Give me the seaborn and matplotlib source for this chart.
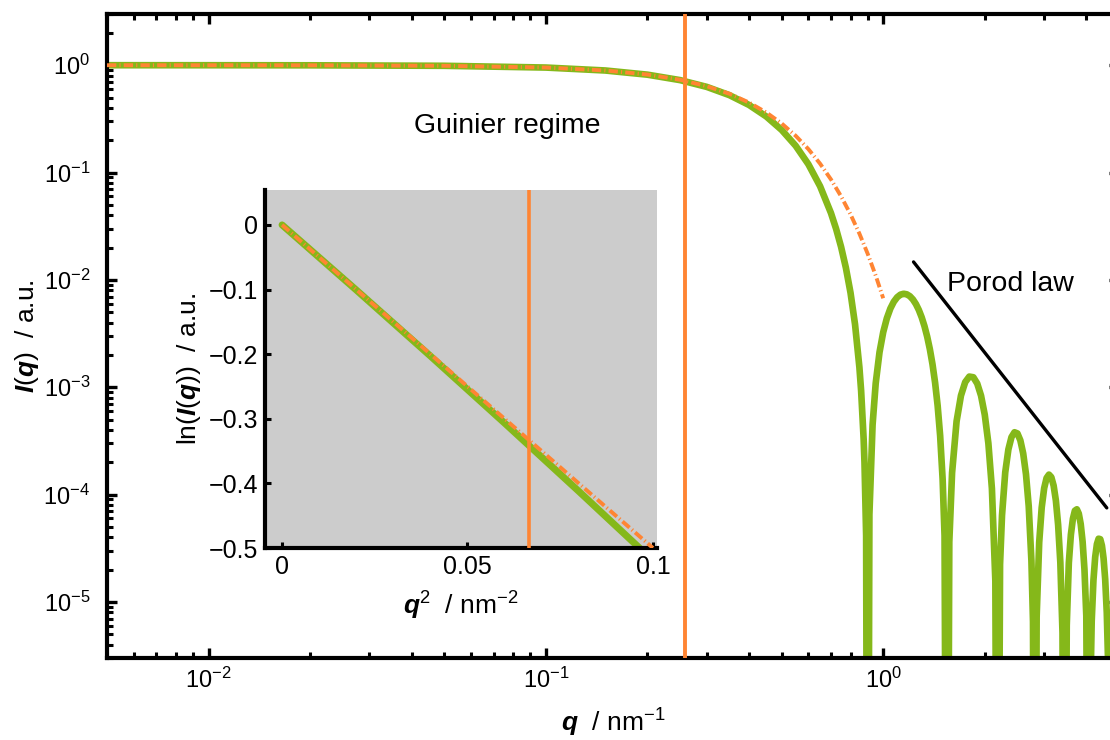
import numpy as np
import pandas as pd
import matplotlib
matplotlib.use("Agg")
import matplotlib.pyplot as plt
import matplotlib.ticker as mticker
import seaborn as sns

# ---------------- data ----------------
# sphere form factor, main panel
q_sphere = [0.005, 0.01, 0.02, 0.05, 0.1, 0.15, 0.2, 0.25, 0.3, 0.35, 0.4, 0.45, 0.5,
            0.55, 0.6, 0.65, 0.7, 0.725, 0.75, 0.775, 0.8, 0.825, 0.85, 0.86, 0.875, 0.88,
            0.89, 0.8987,
            0.91, 0.93, 0.95, 0.975, 1.0, 1.025, 1.05, 1.075, 1.1, 1.125, 1.15, 1.175, 1.2,
            1.225, 1.25, 1.275, 1.3, 1.325, 1.35, 1.375, 1.4, 1.425, 1.45, 1.475, 1.5, 1.52,
            1.5451,
            1.57, 1.6, 1.65, 1.7, 1.75, 1.8, 1.85, 1.9, 1.95, 2.0, 2.05, 2.1, 2.15, 2.1808,
            2.22, 2.25, 2.3, 2.35, 2.4, 2.45, 2.5, 2.55, 2.6, 2.65, 2.7, 2.75, 2.78, 2.8132,
            2.85, 2.9, 2.95, 3.0, 3.05, 3.1, 3.15, 3.2, 3.25, 3.3, 3.35, 3.4, 3.4442,
            3.5, 3.55, 3.6, 3.65, 3.7, 3.75, 3.8, 3.85, 3.9, 3.95, 4.0, 4.0743,
            4.1, 4.15, 4.2, 4.25, 4.3, 4.35, 4.4, 4.45, 4.5, 4.55, 4.6, 4.65, 4.7039,
            4.75, 4.8, 4.85, 4.9, 4.95, 5.0]
I_sphere = [0.99988, 0.9995, 0.998, 0.98756, 0.95106, 0.89278, 0.81632, 0.72628, 0.62781,
            0.52622, 0.42653, 0.33313, 0.24946, 0.17784, 0.11949, 0.074476, 0.041939,
            0.029886, 0.020317, 0.012974, 0.0075834, 0.0038554, 0.0015299, 9.278e-4,
            3.279e-4, 1.991e-4, 4.14e-5, 1e-10,
            6.52e-5, 4.463e-4, 1.0871e-3, 2.115e-3, 3.2551e-3, 4.3847e-3, 5.4091e-3,
            6.2587e-3, 6.8895e-3, 7.286e-3, 7.4239e-3, 7.3334e-3, 7.0384e-3, 6.5653e-3,
            5.9544e-3, 5.2483e-3, 4.4882e-3, 3.7136e-3, 2.9603e-3, 2.2589e-3, 1.633e-3,
            1.1e-3, 6.719e-4, 3.5232e-4, 1.396e-4, 4.14e-5, 1e-10,
            3.61e-5, 1.592e-4, 4.81e-4, 8.351e-4, 1.1154e-3, 1.2561e-3, 1.2381e-3,
            1.0813e-3, 8.335e-4, 5.541e-4, 3.001e-4, 1.136e-4, 1.561e-5, 1e-10,
            2.234e-5, 6.408e-5, 1.61e-4, 2.634e-4, 3.427e-4, 3.805e-4, 3.709e-4,
            3.197e-4, 2.413e-4, 1.5453e-4, 7.767e-5, 2.416e-5, 6.52e-6, 1e-10,
            7.27e-6, 3.581e-5, 7.568e-5, 1.1465e-4, 1.4268e-4, 1.5337e-4, 1.4523e-4,
            1.2126e-4, 8.783e-5, 5.224e-5, 2.337e-5, 5.15e-6, 1e-10,
            6.02e-6, 2.305e-5, 4.225e-5, 5.952e-5, 7.073e-5, 7.287e-5, 6.644e-5,
            5.316e-5, 3.641e-5, 2.0e-5, 7.39e-6, 1e-10,
            8.4e-7, 6.62e-6, 1.598e-5, 2.614e-5, 3.454e-5, 3.879e-5, 3.839e-5, 3.35e-5,
            2.547e-5, 1.625e-5, 7.91e-6, 2.18e-6, 1e-10,
            1.47e-6, 5.79e-6, 1.157e-5, 1.723e-5, 2.132e-5, 2.288e-5]

# Guinier approximation, main panel
q_guinier = [0.005, 0.01, 0.02, 0.05, 0.1, 0.15, 0.2, 0.25, 0.3, 0.35, 0.4, 0.45, 0.5,
             0.55, 0.6, 0.65, 0.7, 0.75, 0.8, 0.85, 0.9, 0.95, 1.0]
I_guinier = [0.99988, 0.9995, 0.998, 0.98758, 0.95123, 0.8936, 0.81873, 0.73161, 0.63763,
             0.54199, 0.44933, 0.36331, 0.2865, 0.22035, 0.1653, 0.12093, 0.08629, 0.060054,
             0.04076, 0.026978, 0.01742, 0.01097, 0.006738]

# Porod law guide line
q_porod = [1.23, 4.6]
I_porod = [0.0147, 7.51e-5]

# Guinier limit marker
q_limit = 0.258
q2_limit = 0.0667

# inset: ln I vs q^2
q2_inset = [0.0, 0.02, 0.04, 0.06, 0.08, 0.1]
lnI_inset = [0.0, -0.1007, -0.2029, -0.3067, -0.4122, -0.5194]
q2_guinier = [0.0, 0.1]
lnI_guinier = [0.0, -0.5]

# tick positions
x_major = [1e-2, 1e-1, 1e0]
y_major = [1e-5, 1e-4, 1e-3, 1e-2, 1e-1, 1e0]
inset_xticks = [0, 0.05, 0.1]
inset_xlabels = ["0", "0.05", "0.1"]
inset_yticks = [0, -0.1, -0.2, -0.3, -0.4, -0.5]
inset_ylabels = ["0", "\u22120.1", "\u22120.2", "\u22120.3", "\u22120.4", "\u22120.5"]

labels_text = ["Guinier regime", "Porod law"]

# ---------------- style ----------------
sns.set_style("ticks")
plt.rcParams["font.family"] = ["Liberation Sans", "DejaVu Sans"]
plt.rcParams["mathtext.fontset"] = "custom"
plt.rcParams["mathtext.rm"] = "Liberation Sans"
plt.rcParams["mathtext.it"] = "Liberation Sans:italic"
plt.rcParams["mathtext.bf"] = "Liberation Sans:bold:italic"
plt.rcParams["axes.edgecolor"] = "black"
plt.rcParams["xtick.color"] = "black"
plt.rcParams["ytick.color"] = "black"
plt.rcParams["text.color"] = "black"
plt.rcParams["axes.labelcolor"] = "black"

GREEN = "#85b81a"
ORANGE = "#ff8533"
DASH = (0, (2.4, 0.8, 0.3, 0.8))

fig = plt.figure(figsize=(11.1, 7.4), dpi=100)
ax = fig.add_axes([107/1110, 1-658/740, (1119-107)/1110, (658-14)/740])
ax.set_xscale("log")
ax.set_yscale("log")

df_s = pd.DataFrame({"q": q_sphere, "I": I_sphere})
df_g = pd.DataFrame({"q": q_guinier, "I": I_guinier})
df_p = pd.DataFrame({"q": q_porod, "I": I_porod})

sns.lineplot(data=df_s, x="q", y="I", ax=ax, color=GREEN, lw=4.8, sort=False,
             estimator=None, zorder=2)
sns.lineplot(data=df_g, x="q", y="I", ax=ax, color=ORANGE, lw=2.8, sort=False,
             estimator=None, zorder=3, linestyle=DASH)
sns.lineplot(data=df_p, x="q", y="I", ax=ax, color="black", lw=2.4, sort=False,
             estimator=None, zorder=3)
ax.axvline(q_limit, color=ORANGE, lw=2.8, zorder=4)

ax.set_xlim(0.005, 5.0)
ax.set_ylim(3e-6, 3.0)
ax.xaxis.set_major_locator(mticker.FixedLocator(x_major))
ax.yaxis.set_major_locator(mticker.FixedLocator(y_major))
ax.xaxis.set_major_formatter(mticker.LogFormatterSciNotation())
ax.yaxis.set_major_formatter(mticker.LogFormatterSciNotation())
ax.xaxis.set_minor_formatter(mticker.NullFormatter())
ax.yaxis.set_minor_formatter(mticker.NullFormatter())
ax.set_xlabel(r"$\mathbf{q}$  / nm$^{-1}$", fontsize=19, labelpad=10)
ax.set_ylabel(r"$\mathbf{I}(\mathbf{q})$  / a.u.", fontsize=19, labelpad=2)

for side in ["left", "right", "top", "bottom"]:
    ax.spines[side].set_linewidth(3.0)
    ax.spines[side].set_visible(True)
    ax.spines[side].set_color("black")
ax.tick_params(which="both", direction="in", top=True, right=True, labelsize=17,
               color="black")
ax.tick_params(which="major", length=7, width=2.4)
ax.tick_params(axis="x", which="major", pad=7)
ax.tick_params(axis="y", which="major", pad=12)
ax.tick_params(which="minor", length=4, width=2.2)

ax.text(0.077, 0.27, labels_text[0], fontsize=20.5, ha="center", va="center")
ax.text(2.39, 0.0092, labels_text[1], fontsize=20.5, ha="center", va="center")

# ---------------- inset ----------------
ins = fig.add_axes([265/1110, 1-548/740, (657-265)/1110, (548-190)/740])
ins.set_facecolor("#cccccc")
df_i = pd.DataFrame({"q2": q2_inset, "lnI": lnI_inset})
df_ig = pd.DataFrame({"q2": q2_guinier, "lnI": lnI_guinier})
sns.lineplot(data=df_i, x="q2", y="lnI", ax=ins, color=GREEN, lw=5.0, sort=False,
             estimator=None, zorder=2)
sns.lineplot(data=df_ig, x="q2", y="lnI", ax=ins, color=ORANGE, lw=2.8, sort=False,
             estimator=None, zorder=3, linestyle=DASH)
ins.axvline(q2_limit, color=ORANGE, lw=2.6, zorder=4)
ins.set_xlim(-0.0046, 0.1011)
ins.set_ylim(-0.5, 0.054)
ins.set_xticks(inset_xticks)
ins.set_xticklabels(inset_xlabels)
ins.set_yticks(inset_yticks)
ins.set_yticklabels(inset_ylabels)
for side in ["top", "right"]:
    ins.spines[side].set_visible(False)
for side in ["left", "bottom"]:
    ins.spines[side].set_linewidth(3.0)
    ins.spines[side].set_color("black")
ins.tick_params(direction="in", length=4, width=2.2, labelsize=18, pad=5, color="black")
ins.set_xlabel(r"$\mathbf{q}^2$  / nm$^{-2}$", fontsize=19, labelpad=8)
ins.set_ylabel(r"ln($\mathbf{I}(\mathbf{q})$)  / a.u.", fontsize=19, labelpad=4)
ins.grid(False)
ax.grid(False)

fig.savefig("out.png", dpi=100)
